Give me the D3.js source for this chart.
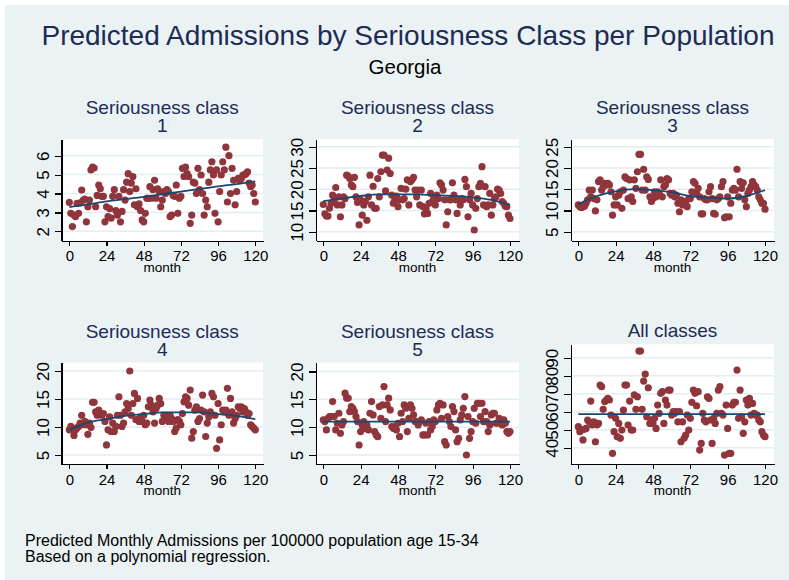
<!DOCTYPE html>
<meta charset="utf-8">
<style>
body { margin: 0; background: #fff; font-family: "Liberation Sans", Arial, sans-serif; }
.axis path, .axis line { fill: none; stroke: #000; stroke-width: 1.2; shape-rendering: crispEdges; }
.axis text { fill: #000; font-family: "Liberation Sans", Arial, sans-serif; }
</style>
<body>
<script src="https://d3js.org/d3.v7.min.js"></script>
<script>

// months 0..120 are the x categories
var months = d3.range(0, 121);
var xTicks = [0, 24, 48, 72, 96, 120];

// predicted admissions (month 0 .. 120)
var class1 = [3.53, 2.95, 2.25, 2.86, 2.78, 3.48, 2.95, 3.5, 4.18, 3.65,
  3.7, 2.5, 3.3, 3.65, 5.25, 5.4, 5.35, 3.3, 3.9, 4.45,
  4.25, 3.85, 3.85, 2.5, 3.3, 2.78, 3.2, 2.7, 3.85, 4.2,
  3.1, 2.85, 3.85, 2.5, 3.05, 4.2, 3.65, 4.6, 5.05, 4.1,
  4.55, 4.9, 3.4, 4.25, 3.3, 3.45, 3.1, 2.6, 2.5, 2.95,
  3.75, 3.75, 4.36, 3.75, 4.2, 4.7, 3.75, 4.25, 4.1, 3.3,
  3.65, 4.1, 4.0, 4.2, 4.1, 2.78, 2.86, 3.9, 3.85, 4.45,
  2.95, 3.75, 3.85, 5.33, 4.9, 5.4, 5.05, 4.9, 2.42, 2.86,
  4.6, 4.55, 4.0, 5.33, 4.2, 4.98, 4.0, 2.86, 3.65, 3.3,
  4.6, 5.25, 5.68, 4.98, 2.95, 5.25, 2.5, 4.1, 4.98, 5.68,
  5.25, 6.45, 3.55, 6.0, 4.0, 5.33, 4.7, 3.4, 4.1, 4.8,
  4.7, 4.8, 4.98, 4.98, 5.05, 5.15, 4.55, 4.36, 4.45, 4.0, 3.55];

var class2 = [16.4, 14.2, 13.7, 13.7, 15.5, 16.7, 18.6, 17.5, 20.4, 16.3,
  18.2, 13.5, 16.3, 18.2, 17.8, 23.3, 23.1, 22.5, 21.0, 20.6,
  22.8, 18.2, 16.9, 11.6, 17.5, 13.9, 16.3, 17.1, 12.7, 18.2,
  23.3, 16.3, 20.7, 15.5, 15.5, 22.5, 18.2, 24.1, 28.0, 28.0,
  19.6, 24.5, 27.3, 23.7, 18.6, 16.7, 17.5, 18.4, 15.9, 17.5,
  20.2, 17.5, 17.8, 20.0, 22.2, 16.3, 21.8, 22.2, 22.8, 19.8,
  18.2, 19.8, 16.3, 19.8, 15.9, 14.2, 15.5, 14.3, 16.7, 19.0,
  17.1, 17.8, 16.3, 18.6, 17.8, 21.5, 21.0, 19.8, 17.5, 11.6,
  14.7, 17.5, 17.5, 21.5, 18.6, 17.5, 14.3, 17.5, 16.3, 17.8,
  17.5, 22.3, 20.6, 13.5, 17.5, 19.0, 16.3, 10.4, 15.5, 17.8,
  20.6, 21.4, 25.3, 16.3, 20.6, 15.9, 16.3, 19.0, 13.9, 16.3,
  17.8, 18.2, 20.0, 19.8, 19.0, 17.1, 16.7, 16.0, 15.9, 13.9, 13.1];

var class3 = [11.3, 10.9, 10.7, 10.9, 11.0, 11.7, 12.5, 14.8, 13.2, 14.8,
  12.8, 9.9, 12.5, 16.8, 17.2, 14.8, 15.6, 16.4, 16.0, 16.4,
  16.0, 14.4, 8.9, 11.3, 13.2, 11.3, 13.6, 14.4, 10.5, 14.8,
  17.9, 17.5, 12.8, 17.2, 13.2, 12.1, 17.2, 15.2, 19.1, 23.2,
  23.2, 14.8, 19.7, 14.8, 17.9, 17.3, 13.2, 12.1, 12.8, 14.4,
  13.2, 14.4, 14.0, 17.2, 13.2, 15.6, 16.0, 17.5, 17.2, 14.0,
  13.6, 14.0, 13.2, 13.6, 11.7, 9.7, 12.5, 11.3, 12.1, 11.7,
  10.9, 12.8, 12.8, 14.4, 16.8, 16.4, 14.0, 15.2, 13.2, 9.2,
  9.2, 12.8, 12.5, 12.5, 14.4, 15.6, 12.8, 9.3, 9.1, 12.5,
  12.8, 13.2, 15.6, 16.8, 8.3, 8.5, 13.2, 8.5, 11.7, 14.8,
  15.2, 14.8, 19.7, 13.2, 16.8, 15.2, 16.5, 12.5, 10.9, 14.0,
  14.8, 15.6, 16.8, 16.0, 15.6, 14.8, 13.2, 12.5, 11.7, 11.7, 10.3];

var class4 = [9.5, 10.1, 9.8, 8.5, 9.5, 9.8, 10.1, 10.7, 12.1, 10.4,
  11.0, 10.4, 8.7, 10.7, 9.9, 14.4, 14.4, 12.7, 12.1, 13.0,
  12.4, 12.1, 12.4, 11.0, 6.8, 9.5, 11.8, 9.2, 10.7, 9.2,
  10.1, 12.1, 15.4, 12.1, 10.1, 10.7, 12.7, 14.2, 13.3, 20.0,
  12.1, 14.2, 16.0, 11.3, 15.1, 11.0, 11.8, 11.0, 12.1, 10.4,
  10.7, 13.6, 14.8, 13.9, 12.7, 10.7, 13.3, 13.9, 15.1, 14.2,
  11.0, 12.1, 11.8, 12.1, 11.0, 12.1, 11.5, 11.0, 9.2, 9.8,
  11.3, 11.0, 10.4, 12.4, 14.5, 15.4, 15.1, 13.9, 16.6, 8.0,
  9.2, 13.0, 13.6, 11.0, 11.5, 13.0, 15.7, 12.7, 8.3, 10.7,
  11.8, 12.7, 16.0, 15.4, 12.1, 6.2, 14.2, 7.7, 10.4, 13.0,
  12.7, 13.0, 16.9, 12.1, 15.1, 12.7, 10.7, 11.5, 12.1, 13.6,
  13.3, 13.6, 12.7, 13.3, 12.7, 12.1, 12.4, 10.4, 10.1, 9.8, 9.5];

var class5 = [11.3, 11.0, 9.5, 11.6, 11.9, 11.9, 14.6, 11.9, 9.5, 10.7,
  12.5, 8.9, 10.4, 11.0, 16.1, 15.2, 15.2, 12.8, 13.7, 13.4,
  12.8, 11.9, 11.0, 6.8, 9.2, 10.4, 11.0, 9.8, 10.4, 9.5,
  12.5, 14.6, 12.2, 9.2, 8.6, 8.3, 13.7, 11.6, 14.0, 17.3,
  11.0, 14.0, 15.2, 13.1, 10.1, 9.8, 10.1, 9.5, 10.7, 8.3,
  12.5, 11.0, 14.0, 13.4, 9.2, 11.6, 14.0, 13.4, 12.2, 11.0,
  11.0, 10.4, 11.0, 11.3, 8.6, 8.6, 10.7, 8.6, 11.0, 9.5,
  10.1, 11.3, 11.0, 13.1, 14.0, 14.3, 11.6, 14.0, 7.4, 6.8,
  11.9, 11.0, 10.1, 13.7, 12.8, 9.5, 7.4, 8.0, 11.3, 12.2,
  13.4, 15.5, 5.0, 11.9, 8.0, 9.2, 11.0, 13.4, 10.7, 14.3,
  14.3, 11.9, 14.3, 11.0, 12.8, 11.0, 9.2, 10.4, 12.2, 12.5,
  12.5, 10.7, 10.7, 11.6, 11.3, 10.4, 11.3, 10.7, 9.2, 8.9, 9.2];

var allClasses = [51.7, 48.9, 49.8, 44.3, 50.2, 50.7, 55.4, 54.4, 65.9, 52.6,
  54.4, 43.3, 52.6, 53.5, 74.8, 73.9, 61.3, 65.6, 66.5, 67.4,
  66.5, 58.1, 36.9, 48.9, 56.3, 46.1, 53.5, 45.2, 49.8, 60.9,
  74.8, 74.8, 52.6, 65.9, 49.8, 49.8, 69.3, 61.3, 68.3, 93.7,
  93.7, 61.3, 77.0, 80.9, 57.2, 73.3, 53.5, 55.4, 53.5, 56.3,
  50.7, 63.7, 59.1, 70.2, 71.1, 53.5, 66.5, 63.7, 72.0, 72.0,
  58.1, 60.0, 59.1, 60.0, 54.4, 60.0, 43.3, 54.4, 45.2, 47.0,
  58.1, 49.8, 56.3, 65.2, 72.0, 70.2, 63.3, 71.1, 38.7, 42.4,
  59.1, 55.4, 54.4, 68.3, 67.4, 55.4, 42.4, 56.3, 53.5, 59.1,
  72.0, 73.9, 59.1, 58.1, 35.9, 63.7, 50.7, 36.9, 36.9, 63.7,
  65.2, 65.2, 83.1, 56.3, 72.0, 57.2, 48.0, 54.4, 66.5, 63.7,
  67.4, 58.1, 64.6, 59.1, 58.1, 58.1, 55.4, 54.4, 48.9, 47.0, 46.1];

// polynomial fit, read at yearly points
var fitMonths = [0, 12, 24, 36, 48, 60, 72, 84, 96, 108, 120];
var fit1 = [3.28, 3.42, 3.58, 3.7, 3.82, 3.96, 4.1, 4.24, 4.38, 4.5, 4.64];
var fit2 = [17.2, 17.8, 18.4, 18.8, 18.8, 18.8, 18.6, 18.4, 18.1, 17.5, 16.3];
var fit3 = [11.5, 13.4, 14.5, 15.0, 14.8, 14.3, 13.4, 13.0, 12.8, 13.4, 14.8];
var fit4 = [9.5, 10.8, 11.4, 12.0, 12.3, 12.6, 12.6, 12.6, 12.3, 12.0, 11.4];
var fit5 = [11.0, 11.0, 11.0, 11.0, 11.0, 11.0, 11.0, 11.0, 11.0, 11.0, 11.0];
var fitAll = [58.7, 58.7, 58.7, 58.7, 58.7, 58.7, 58.7, 58.7, 58.7, 58.7, 58.7];

var panelTitles = [["Seriousness class", "1"], ["Seriousness class", "2"], ["Seriousness class", "3"],
                   ["Seriousness class", "4"], ["Seriousness class", "5"], ["All classes"]];
var yTicks1 = [2, 3, 4, 5, 6];
var yTicks2 = [10, 15, 20, 25, 30];
var yTicks3 = [5, 10, 15, 20, 25];
var yTicks4 = [5, 10, 15, 20];
var yTicks5 = [5, 10, 15, 20];
var yTicksAll = [40, 50, 60, 70, 80, 90];

var navy = "#1a476f", maroon = "#90353b", titleCol = "#1e2b55", bgCol = "#eaf2f3";

// layout of the 6 plot regions
var cols = [{left: 61.5, right: 263, x0: 69.3, x1: 255.3},
            {left: 316, right: 519, x0: 323.3, x1: 510},
            {left: 571, right: 774, x0: 578.3, x1: 765}];

var panels = [
  {col: 0, top: 139, bottom: 240.7, vals: class1, fit: fit1, ticks: yTicks1, ya: [2, 231.3, 6, 155.7], t: panelTitles[0], tb: 114},
  {col: 1, top: 139, bottom: 240.7, vals: class2, fit: fit2, ticks: yTicks2, ya: [10, 231.7, 30, 146.7], t: panelTitles[1], tb: 114},
  {col: 2, top: 139, bottom: 240.7, vals: class3, fit: fit3, ticks: yTicks3, ya: [5, 231.7, 25, 146.7], t: panelTitles[2], tb: 114},
  {col: 0, top: 362.5, bottom: 464, vals: class4, fit: fit4, ticks: yTicks4, ya: [5, 455, 20, 371], t: panelTitles[3], tb: 337.5},
  {col: 1, top: 362.5, bottom: 464, vals: class5, fit: fit5, ticks: yTicks5, ya: [5, 455, 20, 371.5], t: panelTitles[4], tb: 337.5},
  {col: 2, top: 344.3, bottom: 464, vals: allClasses, fit: fitAll, ticks: yTicksAll, ya: [40, 447.7, 90, 357.7], t: panelTitles[5], tb: 336.7}
];

var svg = d3.select("body").append("svg")
    .attr("width", 789)
    .attr("height", 580);

svg.append("rect")
    .attr("x", 5).attr("y", 5)
    .attr("width", 784).attr("height", 575)
    .attr("fill", bgCol);

// main titles
svg.append("text")
    .attr("x", 408).attr("y", 45)
    .attr("text-anchor", "middle")
    .attr("font-size", 28)
    .attr("fill", titleCol)
    .text("Predicted Admissions by Seriousness Class per Population");

svg.append("text")
    .attr("x", 405).attr("y", 74)
    .attr("text-anchor", "middle")
    .attr("font-size", 20.5)
    .attr("fill", "#000")
    .text("Georgia");

panels.forEach(function(p) {
    var c = cols[p.col];

    var x = d3.scaleLinear().domain([0, 120]).range([c.x0, c.x1]);
    var xFull = x.copy().domain([x.invert(c.left), x.invert(c.right)]).range([c.left, c.right]);

    var y = d3.scaleLinear().domain([p.ya[0], p.ya[2]]).range([p.ya[1], p.ya[3]]);
    var yFull = y.copy().domain([y.invert(p.bottom), y.invert(p.top)]).range([p.bottom, p.top]);

    var g = svg.append("g");

    g.append("rect")
        .attr("x", c.left).attr("y", p.top)
        .attr("width", c.right - c.left).attr("height", p.bottom - p.top)
        .attr("fill", "#fff");

    // gridlines
    g.selectAll("line.grid")
        .data(p.ticks)
      .enter().append("line")
        .attr("x1", c.left).attr("x2", c.right)
        .attr("y1", function(d) { return y(d); })
        .attr("y2", function(d) { return y(d); })
        .attr("stroke", "#e4edef")
        .attr("stroke-width", 1.5);

    // points
    g.selectAll("circle")
        .data(months)
      .enter().append("circle")
        .attr("cx", function(d) { return x(d); })
        .attr("cy", function(d) { return y(p.vals[d]); })
        .attr("r", 3.6)
        .attr("fill", maroon);

    // fitted line
    var line = d3.line()
        .x(function(d, i) { return x(fitMonths[i]); })
        .y(function(d) { return y(d); })
        .curve(d3.curveMonotoneX);

    g.append("path")
        .datum(p.fit)
        .attr("d", line)
        .attr("fill", "none")
        .attr("stroke", navy)
        .attr("stroke-width", 1.8);

    // axes
    g.append("g")
        .attr("class", "axis")
        .attr("transform", "translate(0," + p.bottom + ")")
        .call(d3.axisBottom(xFull).tickValues(xTicks).tickFormat(d3.format("d"))
            .tickSizeInner(5).tickSizeOuter(0).tickPadding(5))
        .selectAll("text")
        .attr("font-size", 15);

    var ya = g.append("g")
        .attr("class", "axis")
        .attr("transform", "translate(" + c.left + ",0)")
        .call(d3.axisLeft(yFull).tickValues(p.ticks).tickFormat(d3.format("d"))
            .tickSizeInner(7).tickSizeOuter(0).tickPadding(5));

    ya.selectAll("text")
        .attr("font-size", 17)
        .attr("x", 0)
        .attr("y", -13)
        .attr("dy", 0)
        .attr("text-anchor", "middle")
        .attr("transform", "rotate(-90)");

    g.append("text")
        .attr("x", (c.left + c.right) / 2)
        .attr("y", p.bottom + 31)
        .attr("text-anchor", "middle")
        .attr("font-size", 13.5)
        .text("month");

    // panel title
    p.t.forEach(function(s, i) {
        g.append("text")
            .attr("x", (c.left + c.right) / 2)
            .attr("y", p.tb + i * 18)
            .attr("text-anchor", "middle")
            .attr("font-size", 19)
            .attr("fill", titleCol)
            .text(s);
    });
});

// notes
svg.append("text")
    .attr("x", 25).attr("y", 546)
    .attr("font-size", 16)
    .text("Predicted Monthly Admissions per 100000 population age 15-34");

svg.append("text")
    .attr("x", 25).attr("y", 562)
    .attr("font-size", 16)
    .text("Based on a polynomial regression.");

</script>
</body>
